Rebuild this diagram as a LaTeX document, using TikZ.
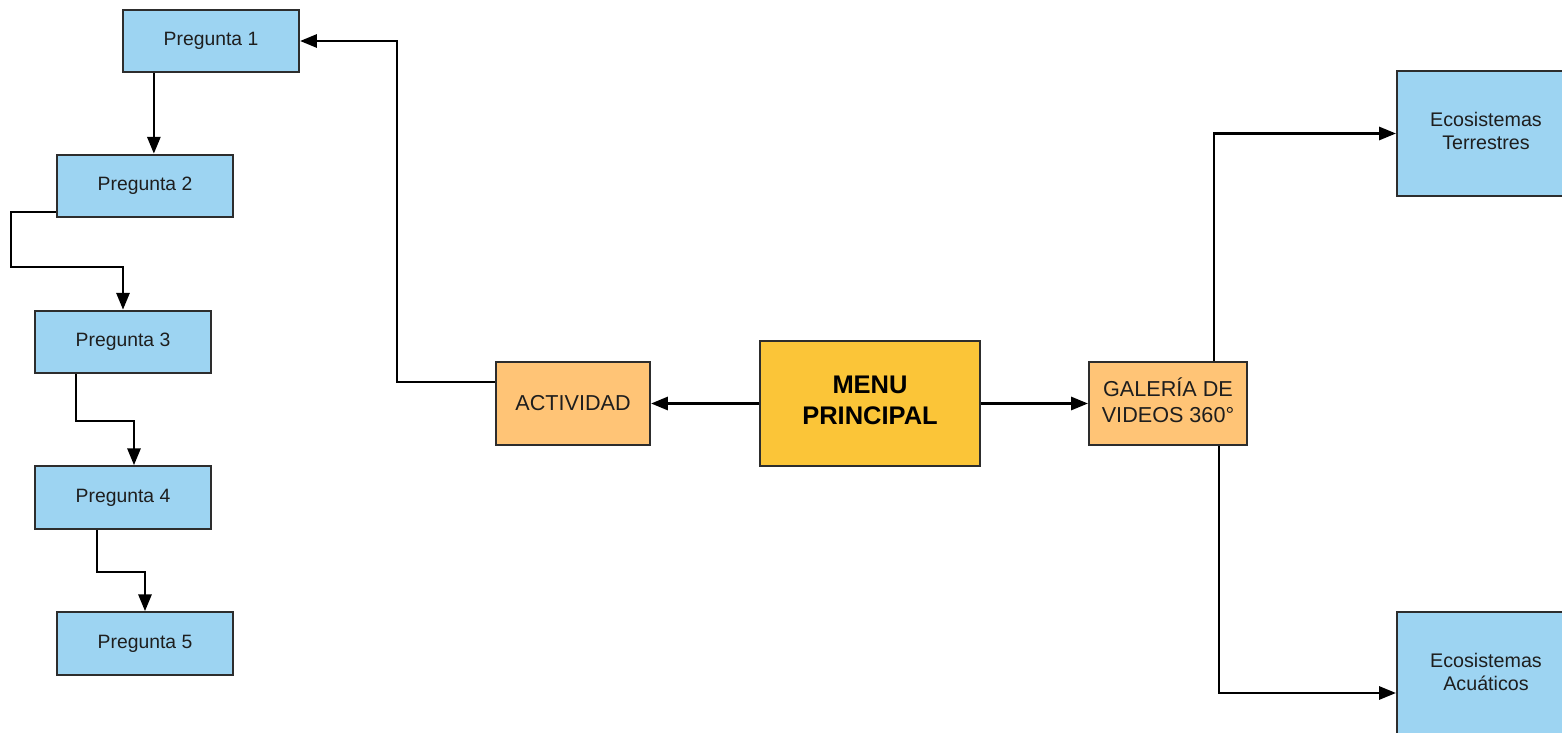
\documentclass[tikz,border=0pt]{standalone}
\usepackage{fontspec}
\setmainfont{Liberation Sans}
\usetikzlibrary{arrows.meta}
\definecolor{qblue}{RGB}{157,212,242}
\definecolor{qorange}{RGB}{255,196,118}
\definecolor{qgold}{RGB}{251,197,56}
\definecolor{qedge}{RGB}{45,45,45}
\definecolor{qtext}{RGB}{30,30,30}
\tikzset{
  box/.style={draw=qedge, line width=1.3pt, rectangle, inner sep=0pt, align=center, text=qtext},
  qbox/.style={box, fill=qblue, minimum width=3.52cm, minimum height=1.25cm, font=\fontsize{11}{13}\selectfont},
  obox/.style={box, fill=qorange, minimum height=1.66cm, font=\fontsize{12.3}{14.7}\selectfont},
  mbox/.style={box, fill=qgold, minimum width=4.4cm, minimum height=2.5cm, font=\fontsize{14.5}{17.6}\selectfont\bfseries, text=black},
  ebox/.style={box, fill=qblue, minimum width=3.56cm, minimum height=2.5cm, font=\fontsize{11.2}{13}\selectfont},
  arr/.style={draw=black, line width=1.2pt, -{Triangle[length=9.5pt,width=7.5pt]}}
}
\begin{document}
\begin{tikzpicture}[x=0.02cm, y=0.02cm]
\useasboundingbox (0,0) rectangle (1562,-733);
\clip (0,0) rectangle (1562,-733);
\fill[white] (0,0) rectangle (1562,-733);
% Pregunta column
\node[qbox] (p1) at (211,-41) {Pregunta 1};
\node[qbox] (p2) at (145,-186) {Pregunta 2};
\node[qbox] (p3) at (123,-342) {Pregunta 3};
\node[qbox] (p4) at (123,-497.5) {Pregunta 4};
\node[qbox] (p5) at (145,-643.5) {Pregunta 5};
% centre row
\node[obox, minimum width=3.08cm] (act) at (573,-403.5) {ACTIVIDAD};
\node[mbox] (menu) at (870,-403.5) {MENU\\PRINCIPAL\\[-14pt]\mbox{}};
\node[obox, minimum width=3.16cm] (gal) at (1168,-403.5) {GALERÍA DE\\VIDEOS 360°\\[-11pt]\mbox{}};
% right boxes
\node[ebox] (ecot) at (1486,-133.5) {Ecosistemas\\Terrestres\\[-10pt]\mbox{}};
\node[ebox] (ecoa) at (1486,-674.5) {Ecosistemas\\Acuáticos\\[-10pt]\mbox{}};
% connectors
\draw[arr] ([xshift=0.64cm]p1.south west) -- ([xshift=0.64cm]p1.south west |- p2.north);
\draw[arr] ([yshift=0.12cm]p2.south west) -- ++(-45,0) |- ([yshift=0.86cm]p3.north) -- (p3.north);
\draw[arr] ([xshift=0.84cm]p3.south west) -- ++(0,-47) -| ([xshift=0.22cm]p4.north);
\draw[arr] ([xshift=1.26cm]p4.south west) -- ++(0,-42) -| (p5.north);
\draw[arr] ([yshift=-0.42cm]act.north west) -- ++(-98,0) |- (p1.east);
\draw[arr] (menu.west) -- (act.east);
\draw[arr] (menu.east) -- (gal.west);
\draw[arr] ([xshift=0.92cm]gal.north) |- (ecot.west);
\draw[arr] ([xshift=1.02cm]gal.south) |- ([yshift=-0.37cm]ecoa.west);
\end{tikzpicture}
\end{document}
